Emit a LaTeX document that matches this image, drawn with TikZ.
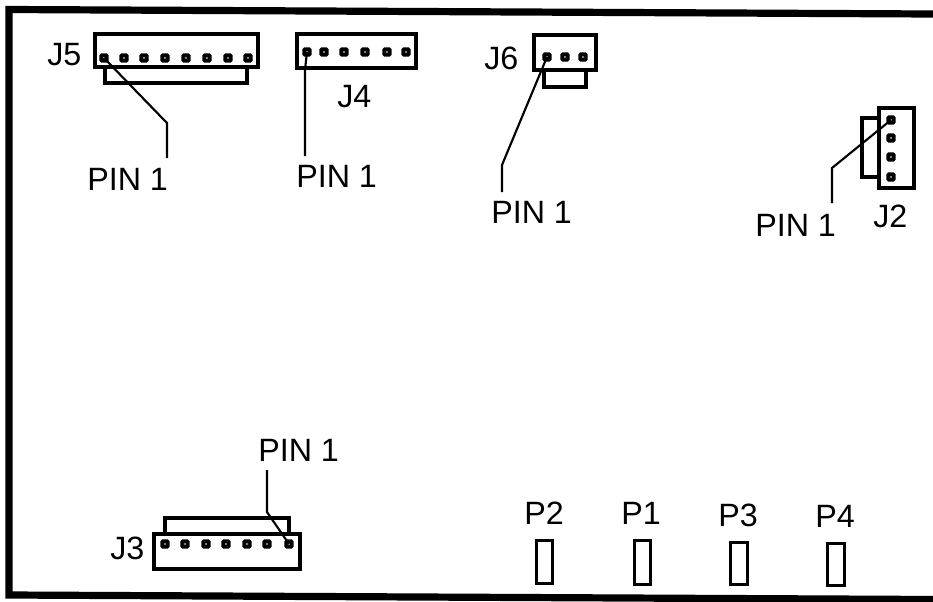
\documentclass[tikz,border=0pt]{standalone}
\usepackage{fontspec}
\setmainfont{Liberation Sans}
\usetikzlibrary{fit}
\tikzset{
  x=0.75pt,y=-0.75pt,
  housing/.style={draw=black,fill=white,line width=2.7pt,inner sep=0pt,rectangle},
  contact/.style={draw=black,fill=white,line width=2pt,inner sep=0pt,rectangle},
  conpin/.style={rectangle,fill=black,rounded corners=1.2pt,minimum size=6.8pt,inner sep=0pt,
    path picture={\fill[white] (path picture bounding box.center) circle (0.6pt);}},
  leader/.style={draw=black,line width=1.6pt,line join=miter},
  lbl/.style={font=\fontsize{24.2pt}{26pt}\selectfont,anchor=base west,inner sep=0pt,text=black},
  frameline/.style={draw=black,line width=5.4pt,line cap=butt,line join=miter},
}
\newcommand{\housingnode}[5]{\node[housing,fit={({#2+1.8},{#3+1.8})({#4-1.8},{#5-1.8})}] (#1) {};}
\newcommand{\contactnode}[5]{\node[contact,fit={({#2+1.3},{#3+1.3})({#4-1.3},{#5-1.3})}] (#1) {};}
\begin{document}
\begin{tikzpicture}
\useasboundingbox (0,0) rectangle (933,601);
\fill[white] (0,0) rectangle (933,601);
% frame (open at the right)
\draw[frameline] (933,14) -- (9,9.5) -- (9,595) -- (933,599.5);
% J5
\housingnode{J5b}{103}{60}{249}{85}
\housingnode{J5a}{93}{32}{260}{69}
\foreach \i/\x in {1/104,2/124,3/144,4/165,5/186,6/207,7/228,8/248}
  \node[conpin] (J5p\i) at (\x,58) {};
\node[lbl] (J5t) at (47,65) {J5};
\node[lbl] (J5l) at (87,190) {PIN 1};
\coordinate (J5e) at (167,123);
\coordinate (J5f) at (167,158);
\draw[leader] (J5p1.center) -- (J5e) -- (J5f);
% J4
\housingnode{J4a}{295}{32}{418}{70}
\foreach \i/\x in {1/307,2/324,3/344,4/365,5/387,6/406}
  \node[conpin] (J4p\i) at (\x,52) {};
\node[lbl] (J4t) at (337,107) {J4};
\node[lbl] (J4l) at (296,187) {PIN 1};
\coordinate (J4e) at (305,70);
\coordinate (J4f) at (305,156);
\draw[leader] (J4p1.center) -- (J4e) -- (J4f);
% J6
\housingnode{J6b}{542}{65}{588}{89}
\housingnode{J6a}{532}{33}{598}{72}
\foreach \i/\x in {1/547,2/565,3/583}
  \node[conpin] (J6p\i) at (\x,57) {};
\node[lbl] (J6t) at (484,69) {J6};
\node[lbl] (J6l) at (491,223) {PIN 1};
\coordinate (J6e) at (502,165);
\coordinate (J6f) at (502,192);
\draw[leader] (J6p1.center) -- (J6e) -- (J6f);
% J2
\housingnode{J2b}{860}{116}{884}{179}
\housingnode{J2a}{877}{106}{916}{190}
\foreach \i/\y in {1/120,2/138,3/157,4/177}
  \node[conpin] (J2p\i) at (891,\y) {};
\node[lbl] (J2t) at (873,227) {J2};
\node[lbl] (J2l) at (755,236) {PIN 1};
\coordinate (J2e) at (832,168);
\coordinate (J2f) at (832,203);
\draw[leader] (J2p1.center) -- (J2e) -- (J2f);
% J3
\housingnode{J3b}{163}{516}{291}{540}
\housingnode{J3a}{152}{532}{302}{571}
\foreach \i/\x in {1/165,2/185,3/206,4/226,5/247,6/267,7/289}
  \node[conpin] (J3p\i) at (\x,544) {};
\node[lbl] (J3t) at (110,559) {J3};
\node[lbl] (J3l) at (258,461) {PIN 1};
\coordinate (J3e) at (267,512);
\coordinate (J3f) at (267,470);
\draw[leader] (J3p7.center) -- (J3e) -- (J3f);
% P contacts
\contactnode{P2}{535}{539}{554}{585}
\contactnode{P1}{633}{539}{652}{586}
\contactnode{P3}{729}{541}{749}{586}
\contactnode{P4}{826}{542}{846}{587}
\node[lbl] (P2t) at (524,524) {P2};
\node[lbl] (P1t) at (621,524) {P1};
\node[lbl] (P3t) at (718,526) {P3};
\node[lbl] (P4t) at (815,527) {P4};
\end{tikzpicture}
\end{document}
